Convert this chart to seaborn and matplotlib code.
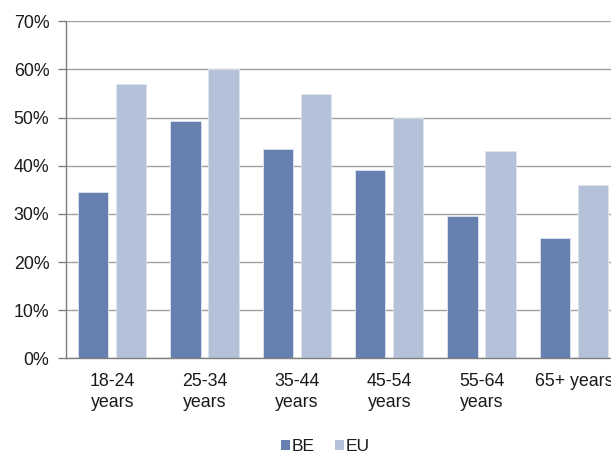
import matplotlib
matplotlib.use("Agg")
import matplotlib.pyplot as plt
from matplotlib.patches import Patch
import numpy as np
import pandas as pd
import seaborn as sns

categories = ["18-24\nyears", "25-34\nyears", "35-44\nyears", "45-54\nyears", "55-64\nyears", "65+ years"]
be_values = [34.5, 49.3, 43.5, 39.1, 29.5, 25.0]
eu_values = [57.0, 60.0, 55.0, 50.0, 43.0, 36.0]
series = ["BE", "EU"]
y_ticks = [0, 10, 20, 30, 40, 50, 60, 70]

colors = {"BE": "#6680B0", "EU": "#B4C1D8"}

df = pd.DataFrame({
    "age": categories * 2,
    "value": be_values + eu_values,
    "series": ["BE"] * len(categories) + ["EU"] * len(categories),
})

sns.set_style("white")
plt.rcParams["font.family"] = ["Liberation Sans", "DejaVu Sans"]

fig = plt.figure(figsize=(6.11, 4.53), dpi=100)
ax = fig.add_axes([66 / 611, 1 - 358.3 / 453, (620 - 66) / 611, (358.3 - 21.3) / 453])

sns.barplot(data=df, x="age", y="value", hue="series", hue_order=series,
            palette=colors, width=0.82, gap=0.2, ax=ax, legend=False,
            edgecolor="#dfe5ef", linewidth=0.6, saturation=1)

ax.set_xlim(-0.5, len(categories) - 0.5)
ax.set_ylim(0, 70)
ax.set_yticks(y_ticks)
ax.set_yticklabels([f"{v}%" for v in y_ticks])
ax.yaxis.grid(True, color="#a0a0a0", linewidth=1.0)
ax.set_axisbelow(True)
ax.set_xlabel("")
ax.set_ylabel("")

for side in ["top", "right"]:
    ax.spines[side].set_visible(False)
for side in ["left", "bottom"]:
    ax.spines[side].set_color("#7f7f7f")
    ax.spines[side].set_linewidth(1.0)

ax.set_xticks(range(len(categories)))
ax.set_xticklabels(categories, linespacing=1.3)
ax.set_xticks(np.arange(-0.5, len(categories), 1.0), minor=True)
ax.tick_params(axis="x", which="major", length=0, pad=10.5, labelsize=12.8, labelcolor="#1a1a1a")
ax.tick_params(axis="x", which="minor", length=5, direction="out", color="#7f7f7f", width=1)
ax.tick_params(axis="y", length=5.5, direction="out", color="#7f7f7f", width=1,
               labelsize=12.8, labelcolor="#1a1a1a", left=True, pad=6.5)

handles = [Patch(facecolor=colors[s], edgecolor="none", label=s) for s in series]
fig.legend(handles=handles, loc="center", bbox_to_anchor=(325.5 / 611, 1 - 446.5 / 453),
           ncol=2, frameon=False, fontsize=12.5, handlelength=0.5, handleheight=0.5,
           handletextpad=0.1, columnspacing=1.2, labelcolor="#1a1a1a", borderpad=0)

fig.savefig("out.png", dpi=100)
